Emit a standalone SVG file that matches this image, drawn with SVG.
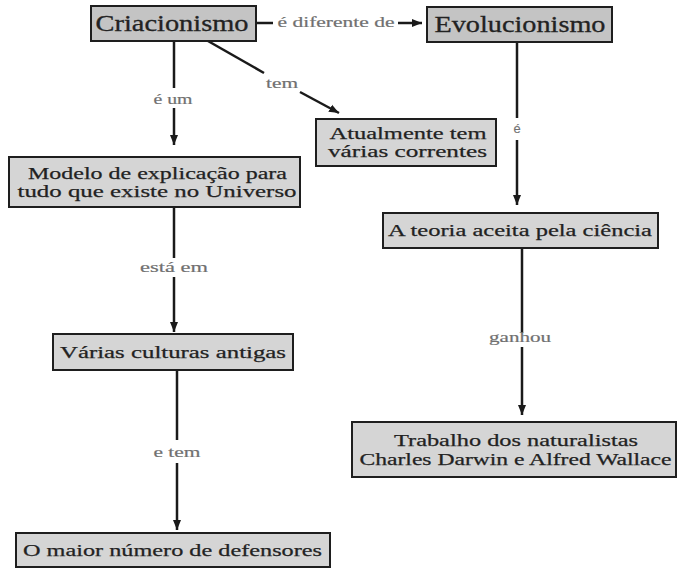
<svg xmlns="http://www.w3.org/2000/svg" width="679" height="569" viewBox="0 0 679 569">
<style>
.box{fill:#d5d5d5;stroke:#1e1e1e;stroke-width:2}
.top{fill:#c4c4c4}
.nt{font-family:"Liberation Serif","Times New Roman",serif;font-size:17.5px;fill:#222;stroke:#222;stroke-width:0.25;text-anchor:middle}
.big{font-size:23px;stroke-width:0.3}
.lb{font-family:"Liberation Serif","Times New Roman",serif;font-size:14.5px;fill:#707070;stroke:#707070;stroke-width:0.2;text-anchor:middle}
.ls{font-family:"Liberation Sans",Arial,sans-serif;font-size:13px;stroke-width:0.1}
.cn{stroke:#1a1a1a;stroke-width:2.5;fill:none}
</style>
<defs>
<marker id="ah" viewBox="0 0 10 8" refX="10" refY="4" markerWidth="10" markerHeight="9" orient="auto" markerUnits="userSpaceOnUse"><path d="M0,0 L10,4 L0,8 z" fill="#1a1a1a"/></marker>
</defs>
<g id="connectors">
<line class="cn" x1="174" y1="41" x2="174" y2="88"/>
<line class="cn" x1="174" y1="108" x2="174" y2="145" marker-end="url(#ah)"/>
<line class="cn" x1="208" y1="41" x2="264" y2="73"/>
<line class="cn" x1="300" y1="92" x2="339" y2="113" marker-end="url(#ah)"/>
<line class="cn" x1="174" y1="207" x2="174" y2="258"/>
<line class="cn" x1="174" y1="277" x2="174" y2="332" marker-end="url(#ah)"/>
<line class="cn" x1="177" y1="370" x2="177" y2="440"/>
<line class="cn" x1="177" y1="463" x2="177" y2="530" marker-end="url(#ah)"/>
<line class="cn" x1="256" y1="23" x2="273" y2="23"/>
<line class="cn" x1="398" y1="23" x2="422" y2="23" marker-end="url(#ah)"/>
<line class="cn" x1="517" y1="42" x2="517" y2="118"/>
<line class="cn" x1="517" y1="140" x2="517" y2="205" marker-end="url(#ah)"/>
<line class="cn" x1="522" y1="248" x2="522" y2="333"/>
<line class="cn" x1="522" y1="347" x2="522" y2="415" marker-end="url(#ah)"/>
<text class="lb" x="173" y="104" textLength="39" lengthAdjust="spacingAndGlyphs">é um</text>
<text class="lb" x="282" y="88" textLength="32" lengthAdjust="spacingAndGlyphs">tem</text>
<text class="lb" x="174" y="272" textLength="68" lengthAdjust="spacingAndGlyphs">está em</text>
<text class="lb" x="177" y="457" textLength="47" lengthAdjust="spacingAndGlyphs">e tem</text>
<text class="lb" x="336" y="27" textLength="117" lengthAdjust="spacingAndGlyphs">é diferente de</text>
<text class="lb ls" x="517" y="133">é</text>
<text class="lb" x="520" y="342" textLength="62" lengthAdjust="spacingAndGlyphs">ganhou</text>
</g>
<g id="criacionismo">
<rect class="box top" x="91" y="6" width="165" height="35"/>
<text class="nt big" x="172" y="31" textLength="153" lengthAdjust="spacingAndGlyphs">Criacionismo</text>
</g>
<g id="evolucionismo">
<rect class="box top" x="427" y="7" width="185" height="35"/>
<text class="nt big" x="520" y="32" textLength="171" lengthAdjust="spacingAndGlyphs">Evolucionismo</text>
</g>
<g id="atualmente">
<rect class="box" x="316" y="119" width="180" height="47"/>
<text class="nt" x="408" y="139" textLength="157" lengthAdjust="spacingAndGlyphs">Atualmente tem</text>
<text class="nt" x="407.5" y="157" textLength="159" lengthAdjust="spacingAndGlyphs">várias correntes</text>
</g>
<g id="modelo">
<rect class="box" x="9" y="157" width="291" height="50"/>
<text class="nt" x="157.5" y="179" textLength="259" lengthAdjust="spacingAndGlyphs">Modelo de explicação para</text>
<text class="nt" x="157" y="197" textLength="279" lengthAdjust="spacingAndGlyphs">tudo que existe no Universo</text>
</g>
<g id="teoria">
<rect class="box" x="383" y="213" width="275" height="35"/>
<text class="nt" x="520" y="236" textLength="264" lengthAdjust="spacingAndGlyphs">A teoria aceita pela ciência</text>
</g>
<g id="varias">
<rect class="box" x="53" y="334" width="240" height="36"/>
<text class="nt" x="173" y="358" textLength="226" lengthAdjust="spacingAndGlyphs">Várias culturas antigas</text>
</g>
<g id="trabalho">
<rect class="box" x="352" y="422" width="324" height="55"/>
<text class="nt" x="516" y="446" textLength="244" lengthAdjust="spacingAndGlyphs">Trabalho dos naturalistas</text>
<text class="nt" x="515.5" y="465" textLength="312" lengthAdjust="spacingAndGlyphs">Charles Darwin e Alfred Wallace</text>
</g>
<g id="maior">
<rect class="box" x="16" y="533" width="314" height="34"/>
<text class="nt" x="172.5" y="556" textLength="299" lengthAdjust="spacingAndGlyphs">O maior número de defensores</text>
</g>
</svg>
